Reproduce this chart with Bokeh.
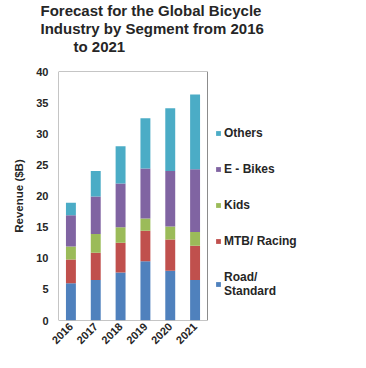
from math import pi
from bokeh.plotting import figure
from bokeh.models import Legend, LegendItem, ColumnDataSource, Title, FixedTicker, Range1d
from bokeh.embed import file_html
from bokeh.resources import INLINE

years = ["2016", "2017", "2018", "2019", "2020", "2021"]
road = [6.0, 6.5, 7.7, 9.5, 8.0, 6.5]
mtb = [3.8, 4.4, 4.8, 4.9, 5.0, 5.5]
kids = [2.1, 3.0, 2.5, 2.0, 2.1, 2.2]
ebikes = [5.0, 6.0, 7.0, 8.0, 8.9, 10.1]
others = [2.0, 4.1, 6.0, 8.1, 10.1, 12.0]
y_ticks = [0, 5, 10, 15, 20, 25, 30, 35, 40]

segments = ["road", "mtb", "kids", "ebikes", "others"]
seg_labels = ["Road/\nStandard", "MTB/ Racing", "Kids", "E - Bikes", "Others"]
colors = ["#4F81BD", "#C0504D", "#9BBB59", "#8064A2", "#4BACC6"]

title_lines = ["Forecast for the Global Bicycle", "Industry by Segment from 2016", "to 2021"]

n = len(years)
idx = list(range(n))
src = ColumnDataSource(dict(x=idx, road=road, mtb=mtb, kids=kids, ebikes=ebikes, others=others))

FONT = "Liberation Sans"
TXT = "#262626"

W, H = 360, 360
LEFT, TOP, BOTTOM, RIGHT = 58, 69, 40, 2
frame_w = W - LEFT - RIGHT
plot_w = 149  # pixel width of the bar area
x_end = -0.5 + n * frame_w / plot_w

p = figure(width=W, height=H, x_range=Range1d(-0.5, x_end), y_range=Range1d(y_ticks[0], y_ticks[-1]),
           output_backend="svg", toolbar_location=None,
           min_border_left=LEFT, min_border_right=RIGHT, min_border_top=TOP, min_border_bottom=BOTTOM)

renderers = p.vbar_stack(segments, x="x", width=0.4, color=colors, line_color=None, source=src)

# plot-area box (the bar area only)
p.quad(left=[-0.5], right=[n - 0.5], bottom=[y_ticks[0]], top=[y_ticks[-1]],
       fill_color=None, line_color="#8C8C8C", line_width=1)

p.xgrid.visible = False
p.ygrid.visible = False
p.outline_line_color = None

for ax in (p.xaxis[0], p.yaxis[0]):
    ax.axis_line_color = None
    ax.major_tick_line_color = None
    ax.minor_tick_line_color = None
    ax.major_tick_out = 0
    ax.major_tick_in = 0
    ax.major_label_text_font = FONT
    ax.major_label_text_font_style = "bold"
    ax.major_label_text_color = TXT
    ax.major_label_text_font_size = "11px"

p.yaxis.ticker = FixedTicker(ticks=y_ticks)
p.yaxis.major_label_standoff = 10
p.yaxis.axis_label = "Revenue ($B)"
p.yaxis.axis_label_text_font = FONT
p.yaxis.axis_label_text_font_style = "bold"
p.yaxis.axis_label_text_font_size = "11.5px"
p.yaxis.axis_label_text_color = TXT
p.yaxis.axis_label_standoff = 8

p.xaxis.ticker = FixedTicker(ticks=idx)
p.xaxis.major_label_overrides = {i: y for i, y in zip(idx, years)}
p.xaxis.major_label_orientation = pi / 4
p.xaxis.major_label_standoff = 4

items = [LegendItem(label=seg_labels[i], renderers=[renderers[i]]) for i in reversed(range(5))]
legend = Legend(items=items, location=(157, 22), padding=0, margin=0,
                border_line_color=None, background_fill_alpha=0,
                glyph_width=6, glyph_height=6, label_standoff=3, spacing=22,
                label_text_font=FONT, label_text_font_style="bold",
                label_text_font_size="12px", label_text_color=TXT, label_height=14)
p.add_layout(legend, "center")

# title lines (outermost first); a blank spacer sits between the last line and the plot
offsets = [-18, -18, 15]
standoffs = [-2, 0, -2]
p.title.text = title_lines[0]
p.title.align = "left"
p.title.offset = offsets[0]
p.title.standoff = standoffs[0]
p.title.text_font = FONT
p.title.text_font_style = "bold"
p.title.text_font_size = "15px"
p.title.text_color = TXT

p.add_layout(Title(text=" ", align="left", standoff=-1.5, text_font=FONT,
                   text_font_size="15px", text_color=TXT), "above")
for i in (2, 1):
    p.add_layout(Title(text=title_lines[i], align="left", offset=offsets[i], standoff=standoffs[i],
                       text_font=FONT, text_font_style="bold", text_font_size="15px",
                       text_color=TXT), "above")

open("out.html", "w").write(file_html(p, INLINE))
